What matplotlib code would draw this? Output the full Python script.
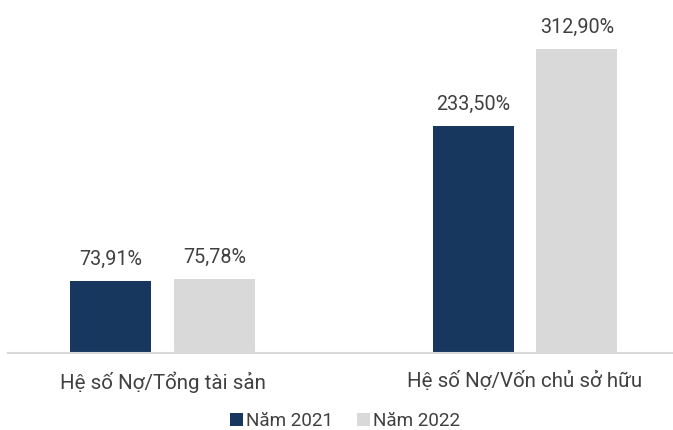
import matplotlib
matplotlib.use("Agg")
import matplotlib.pyplot as plt
from matplotlib.patches import Patch

categories = ["Hệ số Nợ/Tổng tài sản", "Hệ số Nợ/Vốn chủ sở hữu"]
series_names = ["Năm 2021", "Năm 2022"]
values_2021 = [73.91, 233.50]
values_2022 = [75.78, 312.90]
colors = ["#17375E", "#D9D9D9"]
text_color = "#404040"

plt.rcParams['font.family'] = ['Roboto', 'DejaVu Sans']

W, H = 673, 430
fig = plt.figure(figsize=(W / 100, H / 100), dpi=100)
ax_left_px = 8
ax = fig.add_axes([ax_left_px / W, 77 / H, (W - ax_left_px) / W, 353 / H])

# pixel mapping: center of group i at 162.5 + 362.5*i
scale = 362.5
x0 = (ax_left_px - 162.5) / scale
x1 = (W - 162.5) / scale
ax.set_xlim(x0, x1)
ax.set_ylim(0, 353 / 0.9716)

width = 81 / scale
offset = 51.75 / scale
xs = list(range(len(categories)))
for vals, col, sign in [(values_2021, colors[0], -1), (values_2022, colors[1], 1)]:
    pos = [x + sign * offset for x in xs]
    bars = ax.bar(pos, vals, width=width, color=col, zorder=2)
    for b, v in zip(bars, vals):
        label = f"{v:.2f}".replace(".", ",") + "%"
        ax.annotate(label, (b.get_x() + b.get_width() / 2, v), xytext=(0, 9),
                    textcoords="offset points", ha="center", va="bottom",
                    fontsize=14.2, color=text_color)

ax.set_xticks(xs)
ax.set_xticklabels(categories, fontsize=14.8, color=text_color)
ax.tick_params(axis='x', length=0, pad=13)
ax.set_yticks([])
for s in ["top", "left", "right"]:
    ax.spines[s].set_visible(False)
ax.spines["bottom"].set_color("#D9D9D9")
ax.spines["bottom"].set_linewidth(1.5)

handles = [Patch(facecolor=c, edgecolor="none") for c in colors]
leg = fig.legend(handles, series_names, loc="center", bbox_to_anchor=(345 / W, 1 - 421 / H),
                 ncol=2, frameon=False, fontsize=13.6, handlelength=0.68, handleheight=0.68,
                 handletextpad=0.15, columnspacing=1.3, borderpad=0)
for t in leg.get_texts():
    t.set_color(text_color)

fig.savefig("out.png", dpi=100)
